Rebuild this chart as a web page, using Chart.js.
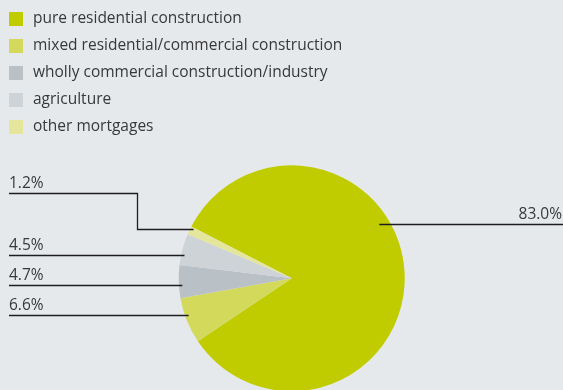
<!DOCTYPE html>
<html>
<head>
<meta charset="utf-8">
<script src="https://cdn.jsdelivr.net/npm/chart.js@4"></script>
<style>
  html, body { margin: 0; padding: 0; background: #e6e9ec; }
  #wrap { width: 563px; height: 390px; position: relative; }
</style>
</head>
<body>
<div id="wrap"><canvas id="pie" width="563" height="390"></canvas></div>
<script>
// mortgage loans by type of property
var categories = [
  'pure residential construction',
  'mixed residential/commercial construction',
  'wholly commercial construction/industry',
  'agriculture',
  'other mortgages'
];
var shares = [83.0, 6.6, 4.7, 4.5, 1.2];
var shareLabels = ['83.0%', '6.6%', '4.7%', '4.5%', '1.2%'];
var colors = ['#c0cc00', '#d3d95a', '#b9c0c6', '#cdd3d7', '#e3e69b'];

var textColor = '#383838';
var lineColor = '#1e1e1e';
var font = '15.5px "Open Sans", sans-serif';

// height of each leader line (px from top) and how deep it reaches into the pie
var leaderY = [224.5, 315.5, 285.5, 255.5, 229.5];
var leaderDepth = [0.91, 0.97, 0.97, 0.97, 0.97];

// legend + leader lines, drawn straight onto the canvas
var annotate = {
  id: 'annotate',
  afterDraw: function (chart) {
    var c = chart.ctx;
    var meta = chart.getDatasetMeta(0);
    c.save();
    c.font = font;
    c.textBaseline = 'middle';

    // legend rows
    for (var i = 0; i < categories.length; i++) {
      var y = 19 + i * 27;
      c.fillStyle = colors[i];
      c.fillRect(9, y - 7, 14, 14);
      c.fillStyle = textColor;
      c.textAlign = 'left';
      c.fillText(categories[i], 33, y);
    }

    c.strokeStyle = lineColor;
    c.lineWidth = 1.3;
    c.textBaseline = 'alphabetic';

    meta.data.forEach(function (arc, i) {
      var p = arc.getProps(['x', 'y', 'outerRadius'], true);
      var r = p.outerRadius * leaderDepth[i];
      var ay = leaderY[i];
      var dy = ay - p.y;
      var dx = Math.sqrt(Math.max(0, r * r - dy * dy));

      c.beginPath();
      if (i === 0) {
        // big slice points off to the right
        c.moveTo(p.x + dx, ay);
        c.lineTo(chart.width, ay);
        c.stroke();
        c.textAlign = 'right';
        c.fillText(shareLabels[i], chart.width - 1, ay - 6);
        return;
      }
      var ax = p.x - dx;
      var ly = ay;
      if (i === 4) {
        // smallest slice gets an elbow so its label clears the others
        ly = 193.5;
        c.moveTo(ax, ay);
        c.lineTo(137.5, ay);
        c.lineTo(137.5, ly);
        c.lineTo(9, ly);
      } else {
        c.moveTo(ax, ay);
        c.lineTo(9, ay);
      }
      c.stroke();
      c.textAlign = 'left';
      c.fillText(shareLabels[i], 9, ly - 6);
    });
    c.restore();
  }
};

var ctx = document.getElementById('pie').getContext('2d');
new Chart(ctx, {
  type: 'pie',
  data: {
    labels: categories,
    datasets: [{
      data: shares,
      backgroundColor: colors,
      borderWidth: 0
    }]
  },
  options: {
    responsive: false,
    animation: false,
    rotation: -62.7,
    radius: 113,
    layout: { padding: { left: 20.4, right: 0, top: 166.6, bottom: 0 } },
    plugins: {
      legend: { display: false },
      tooltip: { enabled: false }
    }
  },
  plugins: [annotate]
});
</script>
</body>
</html>
